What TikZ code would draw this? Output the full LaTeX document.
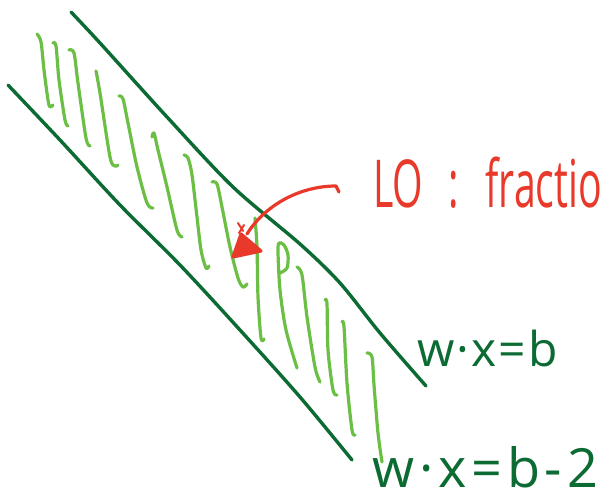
\documentclass[tikz,border=0pt]{standalone}
\usepackage{fontspec}
\setmainfont{Open Sans}
\definecolor{darkgreen}{HTML}{0B6B33}
\definecolor{lightgreen}{HTML}{6CBF45}
\definecolor{penred}{HTML}{E8392A}
\tikzset{
  boundary/.style={draw=darkgreen, line width=3.4pt, line cap=round, line join=round},
  hatch/.style={draw=lightgreen, line width=3.2pt, line cap=round, line join=round},
  redpen/.style={draw=penred, line width=3.2pt, line cap=round, line join=round},
  redlabel/.style={text=penred, inner sep=0pt, anchor=base west},
  greenlabel/.style={text=darkgreen, inner sep=0pt, anchor=base west}
}
\begin{document}
\begin{tikzpicture}[x=1pt,y=-1pt]
\useasboundingbox (0,0) rectangle (600,497);
\clip (0,0) rectangle (600,497);
\fill[white] (0,0) rectangle (600,497);
% boundary lines
\draw[boundary] plot[smooth] coordinates {(71,12) (100,43) (167,117) (233,187) (300,244) (340,283) (380,333) (426,386)};
\draw[boundary] plot[smooth] coordinates {(8,85) (60,140) (120,205) (180,265) (240,330) (300,397) (352,460)};
% hatching
\draw[hatch] plot[smooth] coordinates {(37,34) (41,42) (44,70) (48,100) (50,107) (53,105)};
\draw[hatch] plot[smooth] coordinates {(53,43) (56,46) (59,80) (65,120) (68,126)};
\draw[hatch] plot[smooth] coordinates {(69,50) (74,53) (78,83) (86,138) (90,146)};
\draw[hatch] plot[smooth] coordinates {(96,71) (100,93) (110,157) (115,166) (118,165)};
\draw[hatch] plot[smooth] coordinates {(119,96) (123,99) (128,123) (137,167) (147,203) (153,208)};
\draw[hatch] plot[smooth] coordinates {(152,137) (154,133) (158,150) (167,187) (177,230) (182,237)};
\draw[hatch] plot[smooth] coordinates {(184,155) (188,158) (192,175) (197,217) (201,250) (206,268) (209,266)};
\draw[hatch] plot[smooth] coordinates {(212,182) (217,184) (222,207) (230,247) (238,278) (243,287) (247,284)};
\draw[hatch] plot[smooth] coordinates {(255,218) (257,247) (258,297) (261,338) (264,339)};
\draw[hatch] plot[smooth] coordinates {(280,273) (287,268) (288,255) (284,245) (279,243) (278,252) (280,290) (286,330) (297,368)};
\draw[hatch] plot[smooth] coordinates {(297,267) (302,275) (307,317) (315,367) (320,382)};
\draw[hatch] plot[smooth] coordinates {(325,300) (327,304) (328,350) (333,390) (337,395)};
\draw[hatch] plot[smooth] coordinates {(342,322) (344,327) (347,383) (352,430) (355,435)};
\draw[hatch] plot[smooth] coordinates {(367,353) (372,357) (374,385) (378,433) (382,462)};
% labels
\node[redlabel] (lo) at (373,208) {\scalebox{0.7}[1.18]{\fontsize{56}{56}\selectfont LO\hspace{36pt}:\hspace{38pt}fraction}};
\node[greenlabel] (eqone) at (417,366) {\fontsize{48}{48}\selectfont w\kern2pt·\kern2pt x\kern2pt=\kern3pt b};
\node[greenlabel] (eqtwo) at (372,487) {\fontsize{54}{54}\selectfont w\kern5pt·\kern5pt x\kern5pt=\kern5pt b\kern4pt-\kern5pt 2};
% red arrow
\coordinate (arrowtail) at (339,192);
\coordinate (arrowbend) at (336,186);
\coordinate (arrowtip) at (247,234);
\draw[redpen] (arrowtail) -- (arrowbend) .. controls (300,186) and (265,205) .. (arrowtip);
\filldraw[redpen, fill=penred] (233,257) -- (241,234) -- (261,251) -- cycle;
\draw[redpen, line width=2pt] (238,223) -- (243,231) (244,225) -- (239,233);
\end{tikzpicture}
\end{document}
